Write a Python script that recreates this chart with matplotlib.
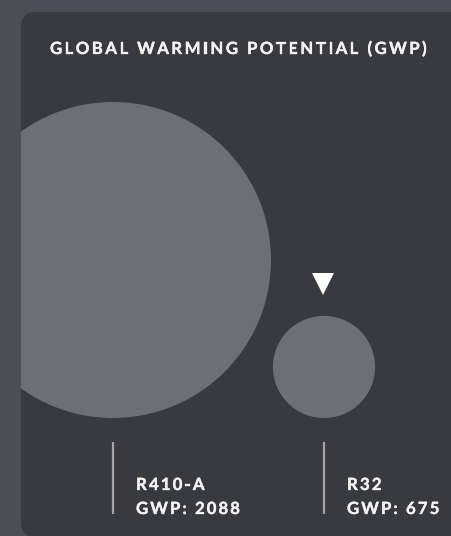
import matplotlib.pyplot as plt
import matplotlib.patheffects as pe
from matplotlib.patches import Circle, FancyBboxPatch, Polygon
from matplotlib.font_manager import FontProperties

# data
refrigerants = ["R410-A", "R32"]
gwp_values = [2088, 675]
title = "GLOBAL WARMING POTENTIAL (GWP)"

W, H = 452, 536
BG = "#4b4e56"
CARD = "#393a3f"
CIRCLE = "#6c6f76"
TEXT = "#f2f2f2"
LINE = "#a3a3a6"

fig = plt.figure(figsize=(W / 100, H / 100), dpi=100, facecolor=BG)
ax = fig.add_axes([0, 0, 1, 1])
ax.set_xlim(0, W)
ax.set_ylim(H, 0)
ax.axis("off")
ax.set_facecolor(BG)

card = FancyBboxPatch((21, 12), 500, 525, boxstyle="round,pad=0,rounding_size=15",
                      facecolor=CARD, edgecolor="none", zorder=1)
ax.add_patch(card)

renderer = fig.canvas.get_renderer()
thick = [pe.withStroke(linewidth=0.25, foreground=TEXT)]


def spaced_text(x, y, s, prop, tracking, **kw):
    # matplotlib has no letter spacing, so place chars one by one
    for ch in s:
        ax.text(x, y, ch, fontproperties=prop, va="baseline", ha="left",
                path_effects=thick, **kw)
        w, _, _ = renderer.get_text_width_height_descent(ch, prop, ismath=False)
        x += w + tracking


font = FontProperties(family=["Lato", "DejaVu Sans"], weight="bold", size=12.1)

spaced_text(50, 54, title, font, 2.45, color=TEXT, zorder=5)

# circles, radius proportional to gwp, bottoms aligned
max_r = 158
base_y = 418
centers_x = [113, 324]
for i, (name, val) in enumerate(zip(refrigerants, gwp_values)):
    r = max_r * val / max(gwp_values)
    c = Circle((centers_x[i], base_y - r), r, facecolor=CIRCLE, edgecolor="none", zorder=2)
    ax.add_patch(c)
    c.set_clip_path(card)
    ax.plot([centers_x[i], centers_x[i]], [442, 514], color=LINE, lw=1.6,
            solid_capstyle="butt", zorder=3)
    spaced_text(centers_x[i] + 23, 490, name, font, 2.1, color=TEXT, zorder=5)
    spaced_text(centers_x[i] + 23, 514, "GWP: %d" % val, font, 2.1, color=TEXT, zorder=5)

# marker above the smaller one
tx, ty = centers_x[1] - 1, 284
ax.add_patch(Polygon([[tx - 11, ty - 11], [tx + 11, ty - 11], [tx, ty + 11]],
                     closed=True, facecolor="white", edgecolor="none", zorder=4))

fig.savefig("out.png", dpi=100, facecolor=BG)
